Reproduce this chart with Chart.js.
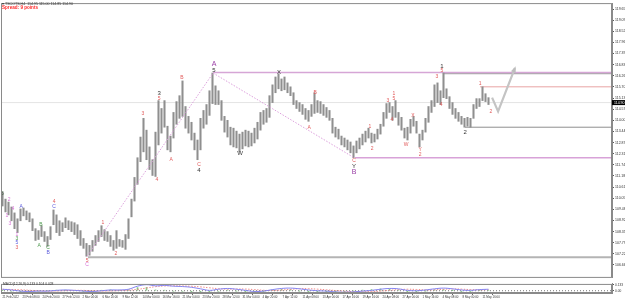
<!DOCTYPE html>
<html>
<head>
<meta charset="utf-8">
<script src="https://cdn.jsdelivr.net/npm/chart.js@4.4.1/dist/chart.umd.min.js"></script>
<style>
html, body { margin: 0; padding: 0; background: #fff; }
#wrap { position: relative; width: 625px; height: 301px; overflow: hidden; }
#main { position: absolute; left: 0; top: 0; }
#macd { position: absolute; left: 0; top: 281px; }
</style>
</head>
<body>
<div id="wrap">
<canvas id="main" width="625" height="281"></canvas>
<canvas id="macd" width="625" height="20"></canvas>
</div>
<script>
// H4 bars (one entry every 3 bars), high / low
const priceHighs = [
  110.35,110.00,109.85,109.60,109.30,109.00,109.50,109.55,109.40,109.30,
  109.00,108.50,108.40,108.65,108.35,108.10,108.60,109.45,109.20,108.90,
  108.80,109.05,108.90,108.85,108.80,108.70,108.40,108.00,107.75,107.65,
  107.90,108.15,108.40,108.65,108.45,108.35,108.15,107.90,108.40,107.95,
  107.90,108.20,109.00,110.00,111.10,112.10,113.15,114.10,113.50,112.65,
  112.00,113.40,115.00,114.60,115.00,113.70,113.20,114.40,114.95,115.25,
  116.00,114.70,114.20,113.90,113.35,113.00,114.10,114.50,114.80,115.50,
  116.40,115.75,115.50,115.00,114.20,114.00,113.65,113.60,113.45,113.30,
  113.40,113.50,113.45,113.35,113.60,113.90,114.40,114.50,114.60,115.25,
  115.80,116.20,116.35,116.10,116.20,115.90,115.70,115.40,115.00,114.90,
  114.80,114.60,114.50,114.80,115.40,115.00,114.95,114.80,114.65,114.50,
  114.10,113.65,113.55,113.20,113.10,113.00,112.90,112.70,112.95,113.10,
  113.30,113.45,113.60,113.35,113.30,113.55,113.80,114.40,114.85,114.90,
  114.70,115.00,114.40,114.15,113.60,113.65,114.05,114.20,113.95,113.30,
  113.50,114.10,114.70,115.00,115.80,115.90,115.50,116.40,115.60,115.20,
  114.90,114.60,114.40,114.20,114.10,114.15,114.10,114.80,115.10,115.10,
  115.70,115.35,115.15
];
const priceLows = [
  109.65,109.35,109.20,108.90,108.50,108.30,108.90,109.15,108.95,108.85,
  108.40,107.90,107.95,108.10,107.85,107.60,107.95,108.70,108.30,108.15,
  108.35,108.55,108.45,108.35,108.20,108.00,107.65,107.50,107.10,107.15,
  107.35,107.65,107.85,108.10,107.90,107.85,107.60,107.40,107.50,107.60,
  107.55,107.45,108.00,109.10,109.90,110.75,111.90,112.40,112.00,111.50,
  111.20,111.15,112.75,113.35,113.65,112.50,112.40,113.10,113.80,114.10,
  114.20,113.60,113.35,113.00,112.50,112.00,112.50,113.60,113.80,114.25,
  114.85,114.80,114.80,114.00,113.40,113.15,112.75,112.65,112.60,112.40,
  112.55,112.70,112.65,112.70,112.85,113.05,113.50,113.80,113.90,114.15,
  114.90,115.40,115.60,115.50,115.55,115.40,115.25,114.80,114.60,114.45,
  114.30,114.05,113.95,114.20,114.35,114.40,114.35,114.25,114.15,114.00,
  113.35,113.15,113.05,112.75,112.65,112.50,112.35,112.10,112.35,112.55,
  112.75,112.90,113.10,112.85,112.90,113.05,113.30,113.70,114.10,114.40,
  114.00,114.15,113.75,113.50,113.10,113.00,113.35,113.70,113.35,112.65,
  113.00,113.40,113.90,114.40,114.70,114.90,114.80,115.15,115.10,114.60,
  114.30,114.10,113.95,113.80,113.65,113.70,113.65,114.10,114.60,114.70,
  115.00,114.95,114.80
];
const lastPrice = 114.90;

const priceTicks = [119.65, 119.09, 118.52, 117.96, 117.39, 116.83, 116.26, 115.70, 115.13, 114.57,
  114.00, 113.44, 112.87, 112.31, 111.74, 111.18, 110.61, 110.05, 109.48, 108.92,
  108.35, 107.79, 107.22, 106.66];

const timeLabels = ["21 Feb 2022", "23 Feb 08:00", "24 Feb 20:00", "27 Feb 12:00", "2 Mar 04:00",
  "6 Mar 20:00", "9 Mar 12:00", "14 Mar 00:00", "16 Mar 16:00", "21 Mar 04:00", "23 Mar 20:00",
  "28 Mar 12:00", "31 Mar 04:00", "4 Apr 20:00", "7 Apr 12:00", "11 Apr 08:00", "13 Apr 00:00",
  "17 Apr 16:00", "19 Apr 16:00", "24 Apr 08:00", "27 Apr 00:00", "1 May 16:00", "4 May 08:00",
  "8 May 00:00", "11 May 16:00"];
const labelStep = 20 / 3;   // bars between time labels

// horizontal levels: starting bar, price
const levels = [
  {from: -0.5, price: 114.90, color: '#e4e4e4', width: 1},
  {from: 70.2, price: 116.43, color: '#d6a6d6', width: 1.5},
  {from: 146.8, price: 116.38, color: '#a9a9a9', width: 1.5},
  {from: 159.2, price: 115.70, color: '#e8a4a4', width: 1},
  {from: 154.2, price: 113.65, color: '#8e8e8e', width: 1},
  {from: 117.5, price: 112.10, color: '#d8a2d8', width: 1.5},
  {from: 28.5, price: 107.05, color: '#b4b4b4', width: 2}
];
// dotted wave connections
const waveLines = [
  [28.2, 107.10, 70.2, 116.40],
  [70.2, 116.40, 117.2, 112.10]
];
// projected path
const projection = [
  {x: 163.2, y: 115.15}, {x: 165.2, y: 114.45}, {x: 170.8, y: 116.65}
];

const waveColors = {r: '#e25b5b', p: '#d873d8', v: '#9a3ea6', b: '#5b5bdc', g: '#4f9a4f', k: '#333333', d: '#3c5c3c'};
// bar, price, text, colour, size
const waveLabels = [
  [0, 110.30, '5', 'd', 5], [2.2, 109.95, '2', 'p', 5], [1.5, 109.15, '1', 'p', 5],
  [3.5, 109.50, '4', 'p', 5], [2.5, 108.75, '3', 'p', 5], [6.2, 109.60, 'A', 'b', 5],
  [4.8, 108.20, '1', 'p', 5], [4.8, 108.00, '3', 'g', 5], [4.8, 107.80, '5', 'b', 5],
  [4.8, 107.55, '3', 'r', 5], [12.8, 108.70, 'B', 'g', 5], [12.2, 107.65, 'A', 'g', 5],
  [15.2, 107.55, 'C', 'g', 5], [15.2, 107.30, 'B', 'b', 5], [17.2, 109.85, '4', 'r', 5],
  [17.2, 109.60, 'C', 'b', 5], [28.2, 106.90, '5', 'r', 5], [28.2, 106.65, 'C', 'p', 5],
  [33.5, 108.80, '1', 'r', 5], [37.8, 107.25, '2', 'r', 5], [46.8, 114.35, '3', 'r', 5],
  [51.5, 111.00, '4', 'r', 5], [52.2, 115.35, '3', 'k', 6], [52.2, 115.10, '5', 'r', 5],
  [56.2, 112.00, 'A', 'r', 5], [59.8, 116.15, 'B', 'r', 5], [65.5, 111.75, 'C', 'r', 5],
  [65.5, 111.45, '4', 'k', 6], [70.5, 116.85, 'A', 'v', 7], [70.5, 116.55, '5', 'k', 6],
  [79.2, 112.30, 'W', 'k', 6], [92.2, 116.45, 'X', 'k', 6], [102.2, 113.65, 'A', 'r', 5],
  [104.2, 115.40, 'B', 'r', 5], [117.2, 111.95, 'C', 'r', 5], [117.2, 111.65, 'Y', 'k', 6],
  [117.2, 111.35, 'B', 'v', 7], [122.5, 113.70, '1', 'r', 5], [123.2, 112.55, '2', 'r', 5],
  [128.5, 115.00, '3', 'r', 5], [130.5, 115.35, '1', 'r', 5], [130.5, 115.10, '5', 'r', 5],
  [129.8, 114.05, '4', 'r', 5], [134.5, 112.75, 'W', 'r', 5], [136.8, 114.25, 'X', 'r', 5],
  [139.2, 112.50, 'Y', 'r', 5], [139.2, 112.25, '2', 'r', 5], [144.8, 116.20, '3', 'r', 5],
  [146.2, 114.80, '4', 'r', 5], [146.5, 116.75, '1', 'k', 6], [146.5, 116.50, '5', 'r', 5],
  [154.2, 113.40, '2', 'k', 6], [159.2, 115.85, '1', 'r', 5], [162.8, 114.45, '2', 'r', 5]
];

// MACD(12,26,9), one value every macdStep bars
const macdStep = 3;
const macdMain = [0.033,0.017,-0.008,-0.017,-0.008,-0.008,0.008,0.017,0.008,-0.008,
  -0.017,0.0,0.017,0.017,0.033,0.10,0.133,0.108,0.117,0.10,
  0.092,0.075,0.042,0.008,0.033,0.05,0.033,0.008,-0.017,-0.008,
  0.025,0.05,0.058,0.042,0.017,0.0,-0.008,-0.025,-0.033,-0.025,
  -0.008,0.008,0.033,0.05,0.042,0.008,0.0,0.017,0.042,0.058,
  0.042,0.017,0.008,0.025,0.033];
const macdSignal = [0.030,0.028,0.020,0.010,0.000,-0.008,-0.005,0.002,0.008,0.008,
  0.000,-0.006,-0.004,0.004,0.012,0.030,0.060,0.090,0.105,0.110,
  0.105,0.098,0.085,0.065,0.045,0.035,0.038,0.037,0.025,0.010,
  0.005,0.015,0.030,0.045,0.045,0.035,0.020,0.005,-0.010,-0.020,
  -0.022,-0.018,-0.008,0.008,0.025,0.033,0.028,0.018,0.020,0.032,
  0.040,0.035,0.025,0.020,0.024];
const macdHist = [0.003,-0.011,-0.028,-0.027,-0.008,0.000,0.013,0.015,0.000,-0.016,
  -0.017,0.006,0.021,0.013,0.021,0.070,0.073,0.018,0.012,-0.010,
  -0.013,-0.023,-0.043,-0.057,-0.012,0.015,-0.005,-0.029,-0.042,-0.018,
  0.020,0.035,0.028,-0.003,-0.028,-0.035,-0.028,-0.030,-0.023,-0.005,
  0.014,0.026,0.041,0.042,0.017,-0.025,-0.028,-0.001,0.022,0.026,
  0.002,-0.018,-0.017,0.005,0.009];
const macdTicks = [0.133, 0];

const X_MIN = -0.5, X_MAX = 203.17;
const FONT = '"Liberation Sans", Arial, sans-serif';

function frame(chart) {
  const {ctx, chartArea: a} = chart;
  ctx.strokeStyle = '#8a8a8a';
  ctx.lineWidth = 1;
  ctx.strokeRect(a.left + 0.5, a.top + 0.5, a.width - 1, a.height - 1);
}

const mainDecor = {
  id: 'mainDecor',
  afterDatasetsDraw(chart) {
    const {ctx, chartArea: a, scales: {x, y}} = chart;
    ctx.save();
    // arrow head on the projection
    const n = projection.length;
    const x1 = x.getPixelForValue(projection[n - 2].x), y1 = y.getPixelForValue(projection[n - 2].y);
    const x2 = x.getPixelForValue(projection[n - 1].x), y2 = y.getPixelForValue(projection[n - 1].y);
    const ang = Math.atan2(y2 - y1, x2 - x1);
    ctx.fillStyle = '#bdbdbd';
    ctx.beginPath();
    ctx.moveTo(x2 + Math.cos(ang) * 2, y2 + Math.sin(ang) * 2);
    ctx.lineTo(x2 + Math.cos(ang + 2.6) * 5, y2 + Math.sin(ang + 2.6) * 5);
    ctx.lineTo(x2 + Math.cos(ang - 2.6) * 5, y2 + Math.sin(ang - 2.6) * 5);
    ctx.closePath();
    ctx.fill();

    // wave labels
    ctx.textAlign = 'center';
    ctx.textBaseline = 'middle';
    for (const [i, p, t, c, s] of waveLabels) {
      ctx.fillStyle = waveColors[c];
      ctx.font = s + 'px ' + FONT;
      ctx.fillText(t, x.getPixelForValue(i), y.getPixelForValue(p));
    }

    frame(chart);

    // header texts
    ctx.textAlign = 'left';
    ctx.fillStyle = '#333';
    ctx.font = '3.6px ' + FONT;
    ctx.fillText('\u25BE TSCOTS,H4  114.95 115.00 114.85 114.90', 2, 3.5);
    ctx.fillStyle = '#ff2a2a';
    ctx.font = 'bold 4.6px ' + FONT;
    ctx.fillText('Spread: 9 points', 2, 8);

    // last price box
    const py = y.getPixelForValue(lastPrice);
    ctx.fillStyle = '#000';
    ctx.fillRect(a.right, py - 2.5, 13, 5);
    ctx.fillStyle = '#fff';
    ctx.font = '3.5px ' + FONT;
    ctx.fillText(lastPrice.toFixed(2), a.right + 2, py);
    ctx.restore();
  }
};

const mainSets = [
  {type: 'bar', data: priceHighs.map((h, i) => ({x: i, y: [priceLows[i], h]})),
   backgroundColor: '#8f8f8f', barThickness: 1.4, order: 5}
];
for (const l of levels) {
  mainSets.push({type: 'line', data: [{x: l.from, y: l.price}, {x: X_MAX, y: l.price}],
    borderColor: l.color, borderWidth: l.width, pointRadius: 0, order: 10});
}
for (const w of waveLines) {
  mainSets.push({type: 'line', data: [{x: w[0], y: w[1]}, {x: w[2], y: w[3]}],
    borderColor: '#dca0dc', borderWidth: 1, borderDash: [1.5, 1.5], pointRadius: 0, order: 4});
}
mainSets.push({type: 'line', data: projection, borderColor: '#c4c4c4', borderWidth: 2.2,
  pointRadius: 0, order: 3});

new Chart(document.getElementById('main'), {
  type: 'bar',
  data: {datasets: mainSets},
  options: {
    responsive: false,
    animation: false,
    events: [],
    layout: {padding: {left: 1, top: 1, bottom: 1, right: 0}},
    plugins: {legend: {display: false}, tooltip: {enabled: false}},
    scales: {
      x: {type: 'linear', display: false, min: X_MIN, max: X_MAX, offset: false},
      y: {
        position: 'right', min: 106.0, max: 119.95,
        grid: {drawOnChartArea: false, tickLength: 2, color: '#555'},
        border: {color: '#8a8a8a'},
        ticks: {font: {size: 3.5, family: FONT}, color: '#333', padding: 1,
                callback: (v) => v.toFixed(2)},
        afterBuildTicks: (s) => { s.ticks = priceTicks.map(v => ({value: v})); },
        afterFit: (s) => { s.width = 13; }
      }
    }
  },
  plugins: [mainDecor]
});

const macdDecor = {
  id: 'macdDecor',
  afterDatasetsDraw(chart) {
    const {ctx} = chart;
    ctx.save();
    frame(chart);
    ctx.fillStyle = '#333';
    ctx.font = '3.3px ' + FONT;
    ctx.textBaseline = 'middle';
    ctx.fillText('MACD(12,26,9) 0.133 0.104 0.028', 3, 3);
    ctx.restore();
  }
};

new Chart(document.getElementById('macd'), {
  type: 'bar',
  data: {datasets: [
    {type: 'bar', data: macdHist.map((v, i) => ({x: i * macdStep, y: v})),
     backgroundColor: '#86c886', barThickness: 1, order: 4},
    {type: 'line', data: [{x: X_MIN, y: 0}, {x: X_MAX, y: 0}], borderColor: '#777',
     borderWidth: 1, borderDash: [1, 2], pointRadius: 0, order: 5},
    {type: 'line', data: macdSignal.map((v, i) => ({x: i * macdStep, y: v})), borderColor: '#f08a8a',
     borderWidth: 1, borderDash: [1.5, 1.5], pointRadius: 0, tension: 0.4, order: 2},
    {type: 'line', data: macdMain.map((v, i) => ({x: i * macdStep, y: v})), borderColor: '#8585f2',
     borderWidth: 1, pointRadius: 0, tension: 0.4, order: 1}
  ]},
  options: {
    responsive: false,
    animation: false,
    events: [],
    layout: {padding: {left: 1, top: 0, bottom: 0, right: 0}},
    plugins: {legend: {display: false}, tooltip: {enabled: false}},
    scales: {
      x: {
        type: 'linear', min: X_MIN, max: X_MAX, offset: false,
        grid: {drawOnChartArea: false, tickLength: 2, color: '#666'},
        border: {color: '#8a8a8a'},
        ticks: {autoSkip: false, maxRotation: 0, align: 'start', padding: 0,
                font: {size: 2.9, family: FONT}, color: '#333',
                callback: (v, i) => timeLabels[i]},
        afterBuildTicks: (s) => { s.ticks = timeLabels.map((t, i) => ({value: i * labelStep})); },
        afterFit: (s) => { s.height = 8; }
      },
      y: {
        position: 'right', min: -0.05, max: 0.15,
        grid: {drawOnChartArea: false, tickLength: 2, color: '#555'},
        border: {color: '#8a8a8a'},
        ticks: {font: {size: 3.2, family: FONT}, color: '#333', padding: 1,
                callback: (v) => v === 0 ? '0.00' : v.toFixed(3)},
        afterBuildTicks: (s) => { s.ticks = macdTicks.map(v => ({value: v})); },
        afterFit: (s) => { s.width = 13; }
      }
    }
  },
  plugins: [macdDecor]
});
</script>
</body>
</html>
